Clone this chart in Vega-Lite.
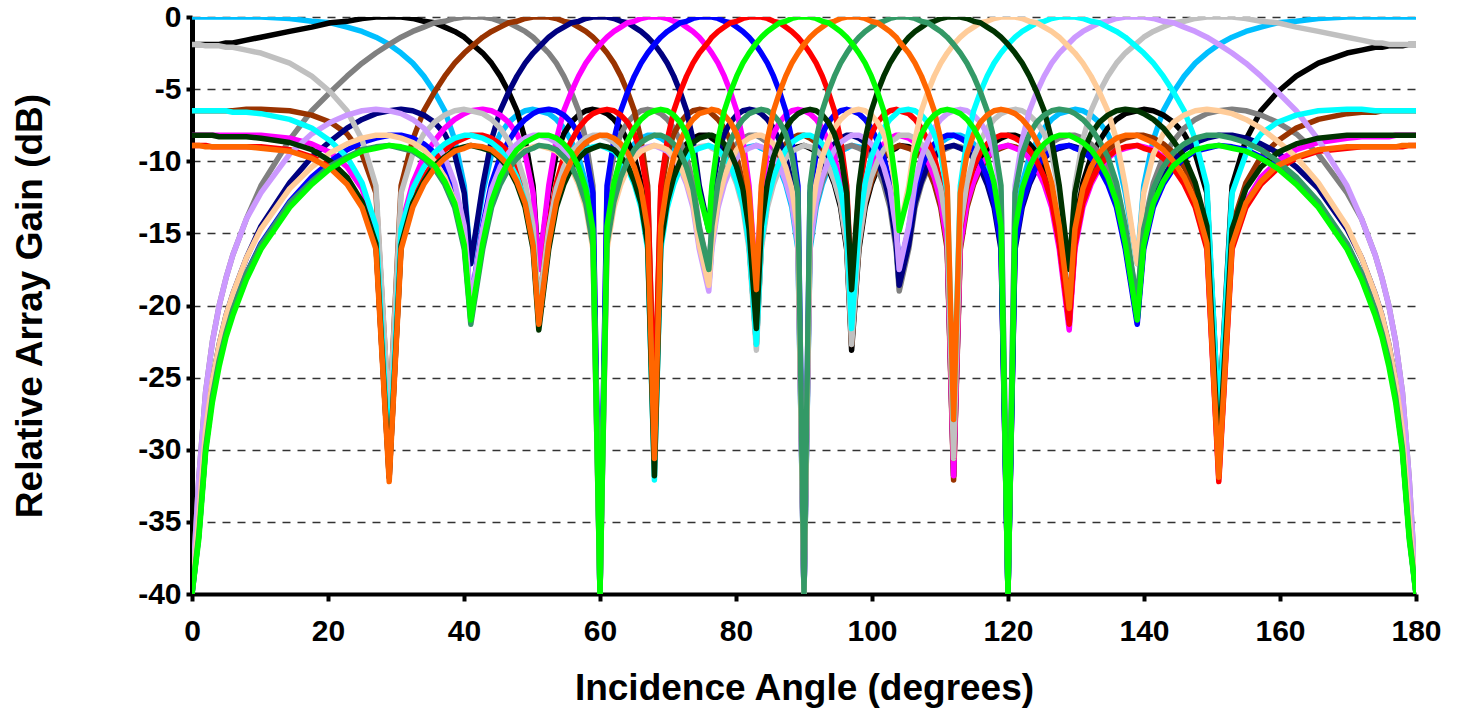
{
"$schema":"https://vega.github.io/schema/vega-lite/v6.json",
"width":1224,"height":577,
"autosize":{"type":"none"},
"padding":{"left":192,"top":17,"right":42,"bottom":116},
"background":"white",
"config":{"view":{"stroke":null},"font":"Liberation Sans","axis":{"labelFont":"Liberation Sans","titleFont":"Liberation Sans"}},
"data":{"values":[
{"x":0,"a":0,"b":-1.9,"c":-40,"d":-6.5,"e":-40,"f":-8.2,"g":-40,"h":-8.9,"i":-40,"j":-8.9,"k":-40,"l":-8.2,"m":-40,"n":-6.5,"o":-40,"p":-1.9},
{"x":1,"a":0,"b":-1.9,"c":-32,"d":-6.5,"e":-34.7,"f":-8.2,"g":-35.9,"h":-8.9,"i":-36.2,"j":-8.9,"k":-35.9,"l":-8.2,"m":-34.7,"n":-6.5,"o":-32,"p":-1.9},
{"x":2,"a":0,"b":-1.9,"c":-26,"d":-6.5,"e":-28.7,"f":-8.2,"g":-29.9,"h":-8.9,"i":-30.2,"j":-9,"k":-29.9,"l":-8.2,"m":-28.7,"n":-6.5,"o":-26,"p":-2},
{"x":3,"a":0,"b":-1.9,"c":-22.5,"d":-6.5,"e":-25.2,"f":-8.2,"g":-26.3,"h":-9,"i":-26.7,"j":-9,"k":-26.3,"l":-8.2,"m":-25.2,"n":-6.5,"o":-22.5,"p":-2},
{"x":4,"a":0,"b":-1.9,"c":-20,"d":-6.5,"e":-22.7,"f":-8.2,"g":-23.8,"h":-9,"i":-24.2,"j":-9,"k":-23.8,"l":-8.3,"m":-22.7,"n":-6.5,"o":-20,"p":-2},
{"x":5,"a":0,"b":-1.8,"c":-18.1,"d":-6.5,"e":-20.7,"f":-8.2,"g":-21.9,"h":-9,"i":-22.2,"j":-9,"k":-21.9,"l":-8.3,"m":-20.7,"n":-6.5,"o":-18.1,"p":-2.1},
{"x":6,"a":0,"b":-1.8,"c":-16.5,"d":-6.5,"e":-19.2,"f":-8.2,"g":-20.3,"h":-9,"i":-20.7,"j":-9,"k":-20.3,"l":-8.3,"m":-19.2,"n":-6.6,"o":-16.5,"p":-2.1},
{"x":8,"a":0,"b":-1.6,"c":-14,"d":-6.4,"e":-16.7,"f":-8.2,"g":-17.8,"h":-9,"i":-18.2,"j":-9,"k":-17.8,"l":-8.3,"m":-16.7,"n":-6.6,"o":-14,"p":-2.3},
{"x":10.14,"a":0,"b":-1.4,"c":-11.7,"d":-6.4,"e":-14.5,"f":-8.2,"g":-15.7,"h":-9,"i":-16.1,"j":-9.1,"k":-15.8,"l":-8.4,"m":-14.7,"n":-6.7,"o":-12.2,"p":-2.5},
{"x":14.36,"a":-0.1,"b":-1,"c":-8.5,"d":-6.5,"e":-11.5,"f":-8.4,"g":-12.8,"h":-9.2,"i":-13.2,"j":-9.3,"k":-12.9,"l":-8.7,"m":-11.9,"n":-7.1,"o":-9.5,"p":-3.2},
{"x":17.61,"a":-0.3,"b":-0.7,"c":-6.5,"d":-6.8,"e":-9.7,"f":-8.8,"g":-11.1,"h":-9.7,"i":-11.6,"j":-9.8,"k":-11.4,"l":-9.2,"m":-10.4,"n":-7.7,"o":-8.1,"p":-4.1},
{"x":20.36,"a":-0.4,"b":-0.4,"c":-5.2,"d":-7.3,"e":-8.6,"f":-9.4,"g":-10,"h":-10.3,"i":-10.5,"j":-10.5,"k":-10.3,"l":-10,"m":-9.4,"n":-8.6,"o":-7.3,"p":-5.2},
{"x":22.8,"a":-0.7,"b":-0.3,"c":-4.1,"d":-8.1,"e":-7.7,"f":-10.4,"g":-9.2,"h":-11.4,"i":-9.8,"j":-11.6,"k":-9.7,"l":-11.1,"m":-8.8,"n":-9.7,"o":-6.8,"p":-6.5},
{"x":25.01,"a":-1,"b":-0.1,"c":-3.2,"d":-9.5,"e":-7.1,"f":-11.9,"g":-8.7,"h":-12.9,"i":-9.3,"j":-13.2,"k":-9.2,"l":-12.8,"m":-8.4,"n":-11.5,"o":-6.5,"p":-8.5},
{"x":27.05,"a":-1.4,"b":0,"c":-2.5,"d":-12.2,"e":-6.7,"f":-14.7,"g":-8.4,"h":-15.8,"i":-9.1,"j":-16.1,"k":-9,"l":-15.7,"m":-8.2,"n":-14.5,"o":-6.4,"p":-11.7},
{"x":29,"a":-1.9,"b":0,"c":-1.9,"d":-28.1,"e":-6.5,"f":-30.7,"g":-8.2,"h":-31.9,"i":-8.9,"j":-32.2,"k":-8.9,"l":-31.9,"m":-8.2,"n":-30.7,"o":-6.5,"p":-28.1},
{"x":30.75,"a":-2.5,"b":0,"c":-1.4,"d":-11.7,"e":-6.4,"f":-14.5,"g":-8.2,"h":-15.7,"i":-9,"j":-16.1,"k":-9.1,"l":-15.8,"m":-8.4,"n":-14.7,"o":-6.7,"p":-12.2},
{"x":32.46,"a":-3.2,"b":-0.1,"c":-1,"d":-8.5,"e":-6.5,"f":-11.5,"g":-8.4,"h":-12.8,"i":-9.2,"j":-13.2,"k":-9.3,"l":-12.9,"m":-8.7,"n":-11.9,"o":-7.1,"p":-9.5},
{"x":34.09,"a":-4.1,"b":-0.3,"c":-0.7,"d":-6.5,"e":-6.8,"f":-9.7,"g":-8.8,"h":-11.1,"i":-9.7,"j":-11.6,"k":-9.8,"l":-11.4,"m":-9.2,"n":-10.4,"o":-7.7,"p":-8.1},
{"x":35.66,"a":-5.2,"b":-0.4,"c":-0.4,"d":-5.2,"e":-7.3,"f":-8.6,"g":-9.4,"h":-10,"i":-10.3,"j":-10.5,"k":-10.5,"l":-10.3,"m":-10,"n":-9.4,"o":-8.6,"p":-7.3},
{"x":37.17,"a":-6.5,"b":-0.7,"c":-0.3,"d":-4.1,"e":-8.1,"f":-7.7,"g":-10.4,"h":-9.2,"i":-11.4,"j":-9.8,"k":-11.6,"l":-9.7,"m":-11.1,"n":-8.8,"o":-9.7,"p":-6.8},
{"x":38.63,"a":-8.5,"b":-1,"c":-0.1,"d":-3.2,"e":-9.5,"f":-7.1,"g":-11.9,"h":-8.7,"i":-12.9,"j":-9.3,"k":-13.2,"l":-9.2,"m":-12.8,"n":-8.4,"o":-11.5,"p":-6.5},
{"x":40.04,"a":-11.7,"b":-1.4,"c":0,"d":-2.5,"e":-12.2,"f":-6.7,"g":-14.7,"h":-8.4,"i":-15.8,"j":-9.1,"k":-16.1,"l":-9,"m":-15.7,"n":-8.2,"o":-14.5,"p":-6.4},
{"x":41,"a":-17.1,"b":-1.8,"c":0,"d":-2.1,"e":-17.1,"f":-6.5,"g":-19.8,"h":-8.2,"i":-21,"j":-8.9,"k":-21.3,"l":-8.9,"m":-21,"n":-8.2,"o":-19.8,"p":-6.5},
{"x":42.75,"a":-12.2,"b":-2.5,"c":0,"d":-1.4,"e":-11.7,"f":-6.4,"g":-14.5,"h":-8.2,"i":-15.7,"j":-9,"k":-16.1,"l":-9.1,"m":-15.8,"n":-8.4,"o":-14.7,"p":-6.7},
{"x":44.05,"a":-9.5,"b":-3.2,"c":-0.1,"d":-1,"e":-8.5,"f":-6.5,"g":-11.5,"h":-8.4,"i":-12.8,"j":-9.2,"k":-13.2,"l":-9.3,"m":-12.9,"n":-8.7,"o":-11.9,"p":-7.1},
{"x":45.32,"a":-8.1,"b":-4.1,"c":-0.3,"d":-0.7,"e":-6.5,"f":-6.8,"g":-9.7,"h":-8.8,"i":-11.1,"j":-9.7,"k":-11.6,"l":-9.8,"m":-11.4,"n":-9.2,"o":-10.4,"p":-7.7},
{"x":46.57,"a":-7.3,"b":-5.2,"c":-0.4,"d":-0.4,"e":-5.2,"f":-7.3,"g":-8.6,"h":-9.4,"i":-10,"j":-10.3,"k":-10.5,"l":-10.5,"m":-10.3,"n":-10,"o":-9.4,"p":-8.6},
{"x":47.79,"a":-6.8,"b":-6.5,"c":-0.7,"d":-0.3,"e":-4.1,"f":-8.1,"g":-7.7,"h":-10.4,"i":-9.2,"j":-11.4,"k":-9.8,"l":-11.6,"m":-9.7,"n":-11.1,"o":-8.8,"p":-9.7},
{"x":48.99,"a":-6.5,"b":-8.5,"c":-1,"d":-0.1,"e":-3.2,"f":-9.5,"g":-7.1,"h":-11.9,"i":-8.7,"j":-12.9,"k":-9.3,"l":-13.2,"m":-9.2,"n":-12.8,"o":-8.4,"p":-11.5},
{"x":50.16,"a":-6.4,"b":-11.7,"c":-1.4,"d":0,"e":-2.5,"f":-12.2,"g":-6.7,"h":-14.7,"i":-8.4,"j":-15.8,"k":-9.1,"l":-16.1,"m":-9,"n":-15.7,"o":-8.2,"p":-14.5},
{"x":51,"a":-6.5,"b":-17.5,"c":-1.8,"d":0,"e":-2.1,"f":-17.5,"g":-6.5,"h":-20.2,"i":-8.2,"j":-21.3,"k":-8.9,"l":-21.7,"m":-8.9,"n":-21.3,"o":-8.2,"p":-20.2},
{"x":52.46,"a":-6.7,"b":-12.2,"c":-2.5,"d":0,"e":-1.4,"f":-11.7,"g":-6.4,"h":-14.5,"i":-8.2,"j":-15.7,"k":-9,"l":-16.1,"m":-9.1,"n":-15.8,"o":-8.4,"p":-14.7},
{"x":53.58,"a":-7.1,"b":-9.5,"c":-3.2,"d":-0.1,"e":-1,"f":-8.5,"g":-6.5,"h":-11.5,"i":-8.4,"j":-12.8,"k":-9.2,"l":-13.2,"m":-9.3,"n":-12.9,"o":-8.7,"p":-11.9},
{"x":54.68,"a":-7.7,"b":-8.1,"c":-4.1,"d":-0.3,"e":-0.7,"f":-6.5,"g":-6.8,"h":-9.7,"i":-8.8,"j":-11.1,"k":-9.7,"l":-11.6,"m":-9.8,"n":-11.4,"o":-9.2,"p":-10.4},
{"x":55.77,"a":-8.6,"b":-7.3,"c":-5.2,"d":-0.4,"e":-0.4,"f":-5.2,"g":-7.3,"h":-8.6,"i":-9.4,"j":-10,"k":-10.3,"l":-10.5,"m":-10.5,"n":-10.3,"o":-10,"p":-9.4},
{"x":56.85,"a":-9.7,"b":-6.8,"c":-6.5,"d":-0.7,"e":-0.3,"f":-4.1,"g":-8.1,"h":-7.7,"i":-10.4,"j":-9.2,"k":-11.4,"l":-9.8,"m":-11.6,"n":-9.7,"o":-11.1,"p":-8.8},
{"x":57.91,"a":-11.5,"b":-6.5,"c":-8.5,"d":-1,"e":-0.1,"f":-3.2,"g":-9.5,"h":-7.1,"i":-11.9,"j":-8.7,"k":-12.9,"l":-9.3,"m":-13.2,"n":-9.2,"o":-12.8,"p":-8.4},
{"x":58.96,"a":-14.5,"b":-6.4,"c":-11.7,"d":-1.4,"e":0,"f":-2.5,"g":-12.2,"h":-6.7,"i":-14.7,"j":-8.4,"k":-15.8,"l":-9.1,"m":-16.1,"n":-9,"o":-15.7,"p":-8.2},
{"x":60,"a":-40,"b":-6.5,"c":-40,"d":-1.9,"e":0,"f":-1.9,"g":-40,"h":-6.5,"i":-40,"j":-8.2,"k":-40,"l":-8.9,"m":-40,"n":-8.9,"o":-40,"p":-8.2},
{"x":61.03,"a":-14.7,"b":-6.7,"c":-12.2,"d":-2.5,"e":0,"f":-1.4,"g":-11.7,"h":-6.4,"i":-14.5,"j":-8.2,"k":-15.7,"l":-9,"m":-16.1,"n":-9.1,"o":-15.8,"p":-8.4},
{"x":62.05,"a":-11.9,"b":-7.1,"c":-9.5,"d":-3.2,"e":-0.1,"f":-1,"g":-8.5,"h":-6.5,"i":-11.5,"j":-8.4,"k":-12.8,"l":-9.2,"m":-13.2,"n":-9.3,"o":-12.9,"p":-8.7},
{"x":63.06,"a":-10.4,"b":-7.7,"c":-8.1,"d":-4.1,"e":-0.3,"f":-0.7,"g":-6.5,"h":-6.8,"i":-9.7,"j":-8.8,"k":-11.1,"l":-9.7,"m":-11.6,"n":-9.8,"o":-11.4,"p":-9.2},
{"x":64.06,"a":-9.4,"b":-8.6,"c":-7.3,"d":-5.2,"e":-0.4,"f":-0.4,"g":-5.2,"h":-7.3,"i":-8.6,"j":-9.4,"k":-10,"l":-10.3,"m":-10.5,"n":-10.5,"o":-10.3,"p":-10},
{"x":65.05,"a":-8.8,"b":-9.7,"c":-6.8,"d":-6.5,"e":-0.7,"f":-0.3,"g":-4.1,"h":-8.1,"i":-7.7,"j":-10.4,"k":-9.2,"l":-11.4,"m":-9.8,"n":-11.6,"o":-9.7,"p":-11.1},
{"x":66.03,"a":-8.4,"b":-11.5,"c":-6.5,"d":-8.5,"e":-1,"f":-0.1,"g":-3.2,"h":-9.5,"i":-7.1,"j":-11.9,"k":-8.7,"l":-12.9,"m":-9.3,"n":-13.2,"o":-9.2,"p":-12.8},
{"x":67.01,"a":-8.2,"b":-14.5,"c":-6.4,"d":-11.7,"e":-1.4,"f":0,"g":-2.5,"h":-12.2,"i":-6.7,"j":-14.7,"k":-8.4,"l":-15.8,"m":-9.1,"n":-16.1,"o":-9,"p":-15.7},
{"x":68,"a":-8.2,"b":-30.6,"c":-6.5,"d":-27.9,"e":-1.9,"f":0,"g":-1.9,"h":-27.9,"i":-6.5,"j":-30.6,"k":-8.2,"l":-31.8,"m":-8.9,"n":-32.1,"o":-8.9,"p":-31.8},
{"x":68.94,"a":-8.4,"b":-14.7,"c":-6.7,"d":-12.2,"e":-2.5,"f":0,"g":-1.4,"h":-11.7,"i":-6.4,"j":-14.5,"k":-8.2,"l":-15.7,"m":-9,"n":-16.1,"o":-9.1,"p":-15.8},
{"x":69.9,"a":-8.7,"b":-11.9,"c":-7.1,"d":-9.5,"e":-3.2,"f":-0.1,"g":-1,"h":-8.5,"i":-6.5,"j":-11.5,"k":-8.4,"l":-12.8,"m":-9.2,"n":-13.2,"o":-9.3,"p":-12.9},
{"x":70.85,"a":-9.2,"b":-10.4,"c":-7.7,"d":-8.1,"e":-4.1,"f":-0.3,"g":-0.7,"h":-6.5,"i":-6.8,"j":-9.7,"k":-8.8,"l":-11.1,"m":-9.7,"n":-11.6,"o":-9.8,"p":-11.4},
{"x":71.79,"a":-10,"b":-9.4,"c":-8.6,"d":-7.3,"e":-5.2,"f":-0.4,"g":-0.4,"h":-5.2,"i":-7.3,"j":-8.6,"k":-9.4,"l":-10,"m":-10.3,"n":-10.5,"o":-10.5,"p":-10.3},
{"x":72.73,"a":-11.1,"b":-8.8,"c":-9.7,"d":-6.8,"e":-6.5,"f":-0.7,"g":-0.3,"h":-4.1,"i":-8.1,"j":-7.7,"k":-10.4,"l":-9.2,"m":-11.4,"n":-9.8,"o":-11.6,"p":-9.7},
{"x":73.67,"a":-12.8,"b":-8.4,"c":-11.5,"d":-6.5,"e":-8.5,"f":-1,"g":-0.1,"h":-3.2,"i":-9.5,"j":-7.1,"k":-11.9,"l":-8.7,"m":-12.9,"n":-9.3,"o":-13.2,"p":-9.2},
{"x":74.6,"a":-15.7,"b":-8.2,"c":-14.5,"d":-6.4,"e":-11.7,"f":-1.4,"g":0,"h":-2.5,"i":-12.2,"j":-6.7,"k":-14.7,"l":-8.4,"m":-15.8,"n":-9.1,"o":-16.1,"p":-9},
{"x":76,"a":-18.6,"b":-8.2,"c":-17.5,"d":-6.5,"e":-14.8,"f":-2.2,"g":0,"h":-1.7,"i":-14.8,"j":-6.5,"k":-17.5,"l":-8.2,"m":-18.6,"n":-8.9,"o":-19,"p":-8.9},
{"x":76.45,"a":-15.8,"b":-8.4,"c":-14.7,"d":-6.7,"e":-12.2,"f":-2.5,"g":0,"h":-1.4,"i":-11.7,"j":-6.4,"k":-14.5,"l":-8.2,"m":-15.7,"n":-9,"o":-16.1,"p":-9.1},
{"x":77.36,"a":-12.9,"b":-8.7,"c":-11.9,"d":-7.1,"e":-9.5,"f":-3.2,"g":-0.1,"h":-1,"i":-8.5,"j":-6.5,"k":-11.5,"l":-8.4,"m":-12.8,"n":-9.2,"o":-13.2,"p":-9.3},
{"x":78.28,"a":-11.4,"b":-9.2,"c":-10.4,"d":-7.7,"e":-8.1,"f":-4.1,"g":-0.3,"h":-0.7,"i":-6.5,"j":-6.8,"k":-9.7,"l":-8.8,"m":-11.1,"n":-9.7,"o":-11.6,"p":-9.8},
{"x":79.19,"a":-10.3,"b":-10,"c":-9.4,"d":-8.6,"e":-7.3,"f":-5.2,"g":-0.4,"h":-0.4,"i":-5.2,"j":-7.3,"k":-8.6,"l":-9.4,"m":-10,"n":-10.3,"o":-10.5,"p":-10.5},
{"x":80.1,"a":-9.7,"b":-11.1,"c":-8.8,"d":-9.7,"e":-6.8,"f":-6.5,"g":-0.7,"h":-0.3,"i":-4.1,"j":-8.1,"k":-7.7,"l":-10.4,"m":-9.2,"n":-11.4,"o":-9.8,"p":-11.6},
{"x":81.01,"a":-9.2,"b":-12.8,"c":-8.4,"d":-11.5,"e":-6.5,"f":-8.5,"g":-1,"h":-0.1,"i":-3.2,"j":-9.5,"k":-7.1,"l":-11.9,"m":-8.7,"n":-12.9,"o":-9.3,"p":-13.2},
{"x":81.92,"a":-9,"b":-15.7,"c":-8.2,"d":-14.5,"e":-6.4,"f":-11.7,"g":-1.4,"h":0,"i":-2.5,"j":-12.2,"k":-6.7,"l":-14.7,"m":-8.4,"n":-15.8,"o":-9.1,"p":-16.1},
{"x":83,"a":-8.9,"b":-22.7,"c":-8.2,"d":-21.6,"e":-6.5,"f":-18.9,"g":-2,"h":0,"i":-1.8,"j":-18.9,"k":-6.5,"l":-21.6,"m":-8.2,"n":-22.7,"o":-8.9,"p":-23.1},
{"x":83.72,"a":-9.1,"b":-15.8,"c":-8.4,"d":-14.7,"e":-6.7,"f":-12.2,"g":-2.5,"h":0,"i":-1.4,"j":-11.7,"k":-6.4,"l":-14.5,"m":-8.2,"n":-15.7,"o":-9,"p":-16.1},
{"x":84.62,"a":-9.3,"b":-12.9,"c":-8.7,"d":-11.9,"e":-7.1,"f":-9.5,"g":-3.2,"h":-0.1,"i":-1,"j":-8.5,"k":-6.5,"l":-11.5,"m":-8.4,"n":-12.8,"o":-9.2,"p":-13.2},
{"x":85.52,"a":-9.8,"b":-11.4,"c":-9.2,"d":-10.4,"e":-7.7,"f":-8.1,"g":-4.1,"h":-0.3,"i":-0.7,"j":-6.5,"k":-6.8,"l":-9.7,"m":-8.8,"n":-11.1,"o":-9.7,"p":-11.6},
{"x":86.42,"a":-10.5,"b":-10.3,"c":-10,"d":-9.4,"e":-8.6,"f":-7.3,"g":-5.2,"h":-0.4,"i":-0.4,"j":-5.2,"k":-7.3,"l":-8.6,"m":-9.4,"n":-10,"o":-10.3,"p":-10.5},
{"x":87.31,"a":-11.6,"b":-9.7,"c":-11.1,"d":-8.8,"e":-9.7,"f":-6.8,"g":-6.5,"h":-0.7,"i":-0.3,"j":-4.1,"k":-8.1,"l":-7.7,"m":-10.4,"n":-9.2,"o":-11.4,"p":-9.8},
{"x":88.21,"a":-13.2,"b":-9.2,"c":-12.8,"d":-8.4,"e":-11.5,"f":-6.5,"g":-8.5,"h":-1,"i":-0.1,"j":-3.2,"k":-9.5,"l":-7.1,"m":-11.9,"n":-8.7,"o":-12.9,"p":-9.3},
{"x":89.11,"a":-16.1,"b":-9,"c":-15.7,"d":-8.2,"e":-14.5,"f":-6.4,"g":-11.7,"h":-1.4,"i":0,"j":-2.5,"k":-12.2,"l":-6.7,"m":-14.7,"n":-8.4,"o":-15.8,"p":-9.1},
{"x":90,"a":-40,"b":-8.9,"c":-40,"d":-8.2,"e":-40,"f":-6.5,"g":-40,"h":-1.9,"i":0,"j":-1.9,"k":-40,"l":-6.5,"m":-40,"n":-8.2,"o":-40,"p":-8.9},
{"x":90.89,"a":-16.1,"b":-9.1,"c":-15.8,"d":-8.4,"e":-14.7,"f":-6.7,"g":-12.2,"h":-2.5,"i":0,"j":-1.4,"k":-11.7,"l":-6.4,"m":-14.5,"n":-8.2,"o":-15.7,"p":-9},
{"x":91.79,"a":-13.2,"b":-9.3,"c":-12.9,"d":-8.7,"e":-11.9,"f":-7.1,"g":-9.5,"h":-3.2,"i":-0.1,"j":-1,"k":-8.5,"l":-6.5,"m":-11.5,"n":-8.4,"o":-12.8,"p":-9.2},
{"x":92.69,"a":-11.6,"b":-9.8,"c":-11.4,"d":-9.2,"e":-10.4,"f":-7.7,"g":-8.1,"h":-4.1,"i":-0.3,"j":-0.7,"k":-6.5,"l":-6.8,"m":-9.7,"n":-8.8,"o":-11.1,"p":-9.7},
{"x":93.58,"a":-10.5,"b":-10.5,"c":-10.3,"d":-10,"e":-9.4,"f":-8.6,"g":-7.3,"h":-5.2,"i":-0.4,"j":-0.4,"k":-5.2,"l":-7.3,"m":-8.6,"n":-9.4,"o":-10,"p":-10.3},
{"x":94.48,"a":-9.8,"b":-11.6,"c":-9.7,"d":-11.1,"e":-8.8,"f":-9.7,"g":-6.8,"h":-6.5,"i":-0.7,"j":-0.3,"k":-4.1,"l":-8.1,"m":-7.7,"n":-10.4,"o":-9.2,"p":-11.4},
{"x":95.38,"a":-9.3,"b":-13.2,"c":-9.2,"d":-12.8,"e":-8.4,"f":-11.5,"g":-6.5,"h":-8.5,"i":-1,"j":-0.1,"k":-3.2,"l":-9.5,"m":-7.1,"n":-11.9,"o":-8.7,"p":-12.9},
{"x":96.28,"a":-9.1,"b":-16.1,"c":-9,"d":-15.7,"e":-8.2,"f":-14.5,"g":-6.4,"h":-11.7,"i":-1.4,"j":0,"k":-2.5,"l":-12.2,"m":-6.7,"n":-14.7,"o":-8.4,"p":-15.8},
{"x":97,"a":-8.9,"b":-23.1,"c":-8.9,"d":-22.7,"e":-8.2,"f":-21.6,"g":-6.5,"h":-18.9,"i":-1.8,"j":0,"k":-2,"l":-18.9,"m":-6.5,"n":-21.6,"o":-8.2,"p":-22.7},
{"x":98.08,"a":-9,"b":-16.1,"c":-9.1,"d":-15.8,"e":-8.4,"f":-14.7,"g":-6.7,"h":-12.2,"i":-2.5,"j":0,"k":-1.4,"l":-11.7,"m":-6.4,"n":-14.5,"o":-8.2,"p":-15.7},
{"x":98.99,"a":-9.2,"b":-13.2,"c":-9.3,"d":-12.9,"e":-8.7,"f":-11.9,"g":-7.1,"h":-9.5,"i":-3.2,"j":-0.1,"k":-1,"l":-8.5,"m":-6.5,"n":-11.5,"o":-8.4,"p":-12.8},
{"x":99.9,"a":-9.7,"b":-11.6,"c":-9.8,"d":-11.4,"e":-9.2,"f":-10.4,"g":-7.7,"h":-8.1,"i":-4.1,"j":-0.3,"k":-0.7,"l":-6.5,"m":-6.8,"n":-9.7,"o":-8.8,"p":-11.1},
{"x":100.81,"a":-10.3,"b":-10.5,"c":-10.5,"d":-10.3,"e":-10,"f":-9.4,"g":-8.6,"h":-7.3,"i":-5.2,"j":-0.4,"k":-0.4,"l":-5.2,"m":-7.3,"n":-8.6,"o":-9.4,"p":-10},
{"x":101.72,"a":-11.4,"b":-9.8,"c":-11.6,"d":-9.7,"e":-11.1,"f":-8.8,"g":-9.7,"h":-6.8,"i":-6.5,"j":-0.7,"k":-0.3,"l":-4.1,"m":-8.1,"n":-7.7,"o":-10.4,"p":-9.2},
{"x":102.64,"a":-12.9,"b":-9.3,"c":-13.2,"d":-9.2,"e":-12.8,"f":-8.4,"g":-11.5,"h":-6.5,"i":-8.5,"j":-1,"k":-0.1,"l":-3.2,"m":-9.5,"n":-7.1,"o":-11.9,"p":-8.7},
{"x":103.55,"a":-15.8,"b":-9.1,"c":-16.1,"d":-9,"e":-15.7,"f":-8.2,"g":-14.5,"h":-6.4,"i":-11.7,"j":-1.4,"k":0,"l":-2.5,"m":-12.2,"n":-6.7,"o":-14.7,"p":-8.4},
{"x":104,"a":-18.6,"b":-8.9,"c":-19,"d":-8.9,"e":-18.6,"f":-8.2,"g":-17.5,"h":-6.5,"i":-14.8,"j":-1.7,"k":0,"l":-2.2,"m":-14.8,"n":-6.5,"o":-17.5,"p":-8.2},
{"x":105.4,"a":-15.7,"b":-9,"c":-16.1,"d":-9.1,"e":-15.8,"f":-8.4,"g":-14.7,"h":-6.7,"i":-12.2,"j":-2.5,"k":0,"l":-1.4,"m":-11.7,"n":-6.4,"o":-14.5,"p":-8.2},
{"x":106.33,"a":-12.8,"b":-9.2,"c":-13.2,"d":-9.3,"e":-12.9,"f":-8.7,"g":-11.9,"h":-7.1,"i":-9.5,"j":-3.2,"k":-0.1,"l":-1,"m":-8.5,"n":-6.5,"o":-11.5,"p":-8.4},
{"x":107.27,"a":-11.1,"b":-9.7,"c":-11.6,"d":-9.8,"e":-11.4,"f":-9.2,"g":-10.4,"h":-7.7,"i":-8.1,"j":-4.1,"k":-0.3,"l":-0.7,"m":-6.5,"n":-6.8,"o":-9.7,"p":-8.8},
{"x":108.21,"a":-10,"b":-10.3,"c":-10.5,"d":-10.5,"e":-10.3,"f":-10,"g":-9.4,"h":-8.6,"i":-7.3,"j":-5.2,"k":-0.4,"l":-0.4,"m":-5.2,"n":-7.3,"o":-8.6,"p":-9.4},
{"x":109.15,"a":-9.2,"b":-11.4,"c":-9.8,"d":-11.6,"e":-9.7,"f":-11.1,"g":-8.8,"h":-9.7,"i":-6.8,"j":-6.5,"k":-0.7,"l":-0.3,"m":-4.1,"n":-8.1,"o":-7.7,"p":-10.4},
{"x":110.1,"a":-8.7,"b":-12.9,"c":-9.3,"d":-13.2,"e":-9.2,"f":-12.8,"g":-8.4,"h":-11.5,"i":-6.5,"j":-8.5,"k":-1,"l":-0.1,"m":-3.2,"n":-9.5,"o":-7.1,"p":-11.9},
{"x":111.06,"a":-8.4,"b":-15.8,"c":-9.1,"d":-16.1,"e":-9,"f":-15.7,"g":-8.2,"h":-14.5,"i":-6.4,"j":-11.7,"k":-1.4,"l":0,"m":-2.5,"n":-12.2,"o":-6.7,"p":-14.7},
{"x":112,"a":-8.2,"b":-31.8,"c":-8.9,"d":-32.1,"e":-8.9,"f":-31.8,"g":-8.2,"h":-30.6,"i":-6.5,"j":-27.9,"k":-1.9,"l":0,"m":-1.9,"n":-27.9,"o":-6.5,"p":-30.6},
{"x":112.99,"a":-8.2,"b":-15.7,"c":-9,"d":-16.1,"e":-9.1,"f":-15.8,"g":-8.4,"h":-14.7,"i":-6.7,"j":-12.2,"k":-2.5,"l":0,"m":-1.4,"n":-11.7,"o":-6.4,"p":-14.5},
{"x":113.97,"a":-8.4,"b":-12.8,"c":-9.2,"d":-13.2,"e":-9.3,"f":-12.9,"g":-8.7,"h":-11.9,"i":-7.1,"j":-9.5,"k":-3.2,"l":-0.1,"m":-1,"n":-8.5,"o":-6.5,"p":-11.5},
{"x":114.95,"a":-8.8,"b":-11.1,"c":-9.7,"d":-11.6,"e":-9.8,"f":-11.4,"g":-9.2,"h":-10.4,"i":-7.7,"j":-8.1,"k":-4.1,"l":-0.3,"m":-0.7,"n":-6.5,"o":-6.8,"p":-9.7},
{"x":115.94,"a":-9.4,"b":-10,"c":-10.3,"d":-10.5,"e":-10.5,"f":-10.3,"g":-10,"h":-9.4,"i":-8.6,"j":-7.3,"k":-5.2,"l":-0.4,"m":-0.4,"n":-5.2,"o":-7.3,"p":-8.6},
{"x":116.94,"a":-10.4,"b":-9.2,"c":-11.4,"d":-9.8,"e":-11.6,"f":-9.7,"g":-11.1,"h":-8.8,"i":-9.7,"j":-6.8,"k":-6.5,"l":-0.7,"m":-0.3,"n":-4.1,"o":-8.1,"p":-7.7},
{"x":117.95,"a":-11.9,"b":-8.7,"c":-12.9,"d":-9.3,"e":-13.2,"f":-9.2,"g":-12.8,"h":-8.4,"i":-11.5,"j":-6.5,"k":-8.5,"l":-1,"m":-0.1,"n":-3.2,"o":-9.5,"p":-7.1},
{"x":118.97,"a":-14.7,"b":-8.4,"c":-15.8,"d":-9.1,"e":-16.1,"f":-9,"g":-15.7,"h":-8.2,"i":-14.5,"j":-6.4,"k":-11.7,"l":-1.4,"m":0,"n":-2.5,"o":-12.2,"p":-6.7},
{"x":120,"a":-40,"b":-8.2,"c":-40,"d":-8.9,"e":-40,"f":-8.9,"g":-40,"h":-8.2,"i":-40,"j":-6.5,"k":-40,"l":-1.9,"m":0,"n":-1.9,"o":-40,"p":-6.5},
{"x":121.04,"a":-14.5,"b":-8.2,"c":-15.7,"d":-9,"e":-16.1,"f":-9.1,"g":-15.8,"h":-8.4,"i":-14.7,"j":-6.7,"k":-12.2,"l":-2.5,"m":0,"n":-1.4,"o":-11.7,"p":-6.4},
{"x":122.09,"a":-11.5,"b":-8.4,"c":-12.8,"d":-9.2,"e":-13.2,"f":-9.3,"g":-12.9,"h":-8.7,"i":-11.9,"j":-7.1,"k":-9.5,"l":-3.2,"m":-0.1,"n":-1,"o":-8.5,"p":-6.5},
{"x":123.15,"a":-9.7,"b":-8.8,"c":-11.1,"d":-9.7,"e":-11.6,"f":-9.8,"g":-11.4,"h":-9.2,"i":-10.4,"j":-7.7,"k":-8.1,"l":-4.1,"m":-0.3,"n":-0.7,"o":-6.5,"p":-6.8},
{"x":124.23,"a":-8.6,"b":-9.4,"c":-10,"d":-10.3,"e":-10.5,"f":-10.5,"g":-10.3,"h":-10,"i":-9.4,"j":-8.6,"k":-7.3,"l":-5.2,"m":-0.4,"n":-0.4,"o":-5.2,"p":-7.3},
{"x":125.32,"a":-7.7,"b":-10.4,"c":-9.2,"d":-11.4,"e":-9.8,"f":-11.6,"g":-9.7,"h":-11.1,"i":-8.8,"j":-9.7,"k":-6.8,"l":-6.5,"m":-0.7,"n":-0.3,"o":-4.1,"p":-8.1},
{"x":126.42,"a":-7.1,"b":-11.9,"c":-8.7,"d":-12.9,"e":-9.3,"f":-13.2,"g":-9.2,"h":-12.8,"i":-8.4,"j":-11.5,"k":-6.5,"l":-8.5,"m":-1,"n":-0.1,"o":-3.2,"p":-9.5},
{"x":127.54,"a":-6.7,"b":-14.7,"c":-8.4,"d":-15.8,"e":-9.1,"f":-16.1,"g":-9,"h":-15.7,"i":-8.2,"j":-14.5,"k":-6.4,"l":-11.7,"m":-1.4,"n":0,"o":-2.5,"p":-12.2},
{"x":129,"a":-6.5,"b":-20.2,"c":-8.2,"d":-21.3,"e":-8.9,"f":-21.7,"g":-8.9,"h":-21.3,"i":-8.2,"j":-20.2,"k":-6.5,"l":-17.5,"m":-2.1,"n":0,"o":-1.8,"p":-17.5},
{"x":129.84,"a":-6.4,"b":-14.5,"c":-8.2,"d":-15.7,"e":-9,"f":-16.1,"g":-9.1,"h":-15.8,"i":-8.4,"j":-14.7,"k":-6.7,"l":-12.2,"m":-2.5,"n":0,"o":-1.4,"p":-11.7},
{"x":131.01,"a":-6.5,"b":-11.5,"c":-8.4,"d":-12.8,"e":-9.2,"f":-13.2,"g":-9.3,"h":-12.9,"i":-8.7,"j":-11.9,"k":-7.1,"l":-9.5,"m":-3.2,"n":-0.1,"o":-1,"p":-8.5},
{"x":132.21,"a":-6.8,"b":-9.7,"c":-8.8,"d":-11.1,"e":-9.7,"f":-11.6,"g":-9.8,"h":-11.4,"i":-9.2,"j":-10.4,"k":-7.7,"l":-8.1,"m":-4.1,"n":-0.3,"o":-0.7,"p":-6.5},
{"x":133.43,"a":-7.3,"b":-8.6,"c":-9.4,"d":-10,"e":-10.3,"f":-10.5,"g":-10.5,"h":-10.3,"i":-10,"j":-9.4,"k":-8.6,"l":-7.3,"m":-5.2,"n":-0.4,"o":-0.4,"p":-5.2},
{"x":134.68,"a":-8.1,"b":-7.7,"c":-10.4,"d":-9.2,"e":-11.4,"f":-9.8,"g":-11.6,"h":-9.7,"i":-11.1,"j":-8.8,"k":-9.7,"l":-6.8,"m":-6.5,"n":-0.7,"o":-0.3,"p":-4.1},
{"x":135.95,"a":-9.5,"b":-7.1,"c":-11.9,"d":-8.7,"e":-12.9,"f":-9.3,"g":-13.2,"h":-9.2,"i":-12.8,"j":-8.4,"k":-11.5,"l":-6.5,"m":-8.5,"n":-1,"o":-0.1,"p":-3.2},
{"x":137.25,"a":-12.2,"b":-6.7,"c":-14.7,"d":-8.4,"e":-15.8,"f":-9.1,"g":-16.1,"h":-9,"i":-15.7,"j":-8.2,"k":-14.5,"l":-6.4,"m":-11.7,"n":-1.4,"o":0,"p":-2.5},
{"x":139,"a":-17.1,"b":-6.5,"c":-19.8,"d":-8.2,"e":-21,"f":-8.9,"g":-21.3,"h":-8.9,"i":-21,"j":-8.2,"k":-19.8,"l":-6.5,"m":-17.1,"n":-2.1,"o":0,"p":-1.8},
{"x":139.96,"a":-11.7,"b":-6.4,"c":-14.5,"d":-8.2,"e":-15.7,"f":-9,"g":-16.1,"h":-9.1,"i":-15.8,"j":-8.4,"k":-14.7,"l":-6.7,"m":-12.2,"n":-2.5,"o":0,"p":-1.4},
{"x":141.37,"a":-8.5,"b":-6.5,"c":-11.5,"d":-8.4,"e":-12.8,"f":-9.2,"g":-13.2,"h":-9.3,"i":-12.9,"j":-8.7,"k":-11.9,"l":-7.1,"m":-9.5,"n":-3.2,"o":-0.1,"p":-1},
{"x":142.83,"a":-6.5,"b":-6.8,"c":-9.7,"d":-8.8,"e":-11.1,"f":-9.7,"g":-11.6,"h":-9.8,"i":-11.4,"j":-9.2,"k":-10.4,"l":-7.7,"m":-8.1,"n":-4.1,"o":-0.3,"p":-0.7},
{"x":144.34,"a":-5.2,"b":-7.3,"c":-8.6,"d":-9.4,"e":-10,"f":-10.3,"g":-10.5,"h":-10.5,"i":-10.3,"j":-10,"k":-9.4,"l":-8.6,"m":-7.3,"n":-5.2,"o":-0.4,"p":-0.4},
{"x":145.91,"a":-4.1,"b":-8.1,"c":-7.7,"d":-10.4,"e":-9.2,"f":-11.4,"g":-9.8,"h":-11.6,"i":-9.7,"j":-11.1,"k":-8.8,"l":-9.7,"m":-6.8,"n":-6.5,"o":-0.7,"p":-0.3},
{"x":147.54,"a":-3.2,"b":-9.5,"c":-7.1,"d":-11.9,"e":-8.7,"f":-12.9,"g":-9.3,"h":-13.2,"i":-9.2,"j":-12.8,"k":-8.4,"l":-11.5,"m":-6.5,"n":-8.5,"o":-1,"p":-0.1},
{"x":149.25,"a":-2.5,"b":-12.2,"c":-6.7,"d":-14.7,"e":-8.4,"f":-15.8,"g":-9.1,"h":-16.1,"i":-9,"j":-15.7,"k":-8.2,"l":-14.5,"m":-6.4,"n":-11.7,"o":-1.4,"p":0},
{"x":151,"a":-1.9,"b":-28.1,"c":-6.5,"d":-30.7,"e":-8.2,"f":-31.9,"g":-8.9,"h":-32.2,"i":-8.9,"j":-31.9,"k":-8.2,"l":-30.7,"m":-6.5,"n":-28.1,"o":-1.9,"p":0},
{"x":152.95,"a":-1.4,"b":-11.7,"c":-6.4,"d":-14.5,"e":-8.2,"f":-15.7,"g":-9,"h":-16.1,"i":-9.1,"j":-15.8,"k":-8.4,"l":-14.7,"m":-6.7,"n":-12.2,"o":-2.5,"p":0},
{"x":154.99,"a":-1,"b":-8.5,"c":-6.5,"d":-11.5,"e":-8.4,"f":-12.8,"g":-9.2,"h":-13.2,"i":-9.3,"j":-12.9,"k":-8.7,"l":-11.9,"m":-7.1,"n":-9.5,"o":-3.2,"p":-0.1},
{"x":157.2,"a":-0.7,"b":-6.5,"c":-6.8,"d":-9.7,"e":-8.8,"f":-11.1,"g":-9.7,"h":-11.6,"i":-9.8,"j":-11.4,"k":-9.2,"l":-10.4,"m":-7.7,"n":-8.1,"o":-4.1,"p":-0.3},
{"x":159.64,"a":-0.4,"b":-5.2,"c":-7.3,"d":-8.6,"e":-9.4,"f":-10,"g":-10.3,"h":-10.5,"i":-10.5,"j":-10.3,"k":-10,"l":-9.4,"m":-8.6,"n":-7.3,"o":-5.2,"p":-0.4},
{"x":162.39,"a":-0.3,"b":-4.1,"c":-8.1,"d":-7.7,"e":-10.4,"f":-9.2,"g":-11.4,"h":-9.8,"i":-11.6,"j":-9.7,"k":-11.1,"l":-8.8,"m":-9.7,"n":-6.8,"o":-6.5,"p":-0.7},
{"x":165.64,"a":-0.1,"b":-3.2,"c":-9.5,"d":-7.1,"e":-11.9,"f":-8.7,"g":-12.9,"h":-9.3,"i":-13.2,"j":-9.2,"k":-12.8,"l":-8.4,"m":-11.5,"n":-6.5,"o":-8.5,"p":-1},
{"x":169.86,"a":0,"b":-2.5,"c":-12.2,"d":-6.7,"e":-14.7,"f":-8.4,"g":-15.8,"h":-9.1,"i":-16.1,"j":-9,"k":-15.7,"l":-8.2,"m":-14.5,"n":-6.4,"o":-11.7,"p":-1.4},
{"x":172,"a":0,"b":-2.3,"c":-14,"d":-6.6,"e":-16.7,"f":-8.3,"g":-17.8,"h":-9,"i":-18.2,"j":-9,"k":-17.8,"l":-8.2,"m":-16.7,"n":-6.4,"o":-14,"p":-1.6},
{"x":174,"a":0,"b":-2.1,"c":-16.5,"d":-6.6,"e":-19.2,"f":-8.3,"g":-20.3,"h":-9,"i":-20.7,"j":-9,"k":-20.3,"l":-8.2,"m":-19.2,"n":-6.5,"o":-16.5,"p":-1.8},
{"x":175,"a":0,"b":-2.1,"c":-18.1,"d":-6.5,"e":-20.7,"f":-8.3,"g":-21.9,"h":-9,"i":-22.2,"j":-9,"k":-21.9,"l":-8.2,"m":-20.7,"n":-6.5,"o":-18.1,"p":-1.8},
{"x":176,"a":0,"b":-2,"c":-20,"d":-6.5,"e":-22.7,"f":-8.3,"g":-23.8,"h":-9,"i":-24.2,"j":-9,"k":-23.8,"l":-8.2,"m":-22.7,"n":-6.5,"o":-20,"p":-1.9},
{"x":177,"a":0,"b":-2,"c":-22.5,"d":-6.5,"e":-25.2,"f":-8.2,"g":-26.3,"h":-9,"i":-26.7,"j":-9,"k":-26.3,"l":-8.2,"m":-25.2,"n":-6.5,"o":-22.5,"p":-1.9},
{"x":178,"a":0,"b":-2,"c":-26,"d":-6.5,"e":-28.7,"f":-8.2,"g":-29.9,"h":-9,"i":-30.2,"j":-8.9,"k":-29.9,"l":-8.2,"m":-28.7,"n":-6.5,"o":-26,"p":-1.9},
{"x":179,"a":0,"b":-1.9,"c":-32,"d":-6.5,"e":-34.7,"f":-8.2,"g":-35.9,"h":-8.9,"i":-36.2,"j":-8.9,"k":-35.9,"l":-8.2,"m":-34.7,"n":-6.5,"o":-32,"p":-1.9},
{"x":180,"a":0,"b":-1.9,"c":-40,"d":-6.5,"e":-40,"f":-8.2,"g":-40,"h":-8.9,"i":-40,"j":-8.9,"k":-40,"l":-8.2,"m":-40,"n":-6.5,"o":-40,"p":-1.9}
]},
"transform":[{"fold":["a","b","c","d","e","f","g","h","p","o","n","m","l","k","j","i"],"as":["beam","gain"]}],
"mark":{"type":"line","strokeWidth":5.5,"clip":true,"strokeJoin":"round","strokeCap":"butt"},
"encoding":{
"x":{"field":"x","type":"quantitative","scale":{"domain":[0,180],"nice":false,"zero":false},
"axis":{"values":[0,20,40,60,80,100,120,140,160,180],"grid":false,"title":"Incidence Angle (degrees)","titleFontSize":37,"titleFontWeight":"bold","titleColor":"black","titlePadding":24,"labelFontSize":30,"labelFontWeight":"bold","labelColor":"black","labelPadding":15,"labelFlush":false,"labelBound":false,"tickSize":7,"tickWidth":4,"tickColor":"black","domainWidth":4,"domainColor":"black"}},
"y":{"field":"gain","type":"quantitative","scale":{"domain":[-40,0],"nice":false,"zero":false},
"axis":{"values":[-40,-35,-30,-25,-20,-15,-10,-5,0],"labelExpr":"'' + datum.value","grid":true,"gridDash":[8,7],"gridColor":"#333333","gridWidth":1.5,"title":"Relative Array Gain (dB)","titleFontSize":37,"titleFontWeight":"bold","titleColor":"black","titlePadding":88,"labelFontSize":30,"labelFontWeight":"bold","labelColor":"black","labelPadding":5,"labelFlush":false,"labelBound":false,"tickSize":6,"tickWidth":4,"tickColor":"black","domainWidth":5,"domainColor":"black"}},
"color":{"field":"beam","type":"nominal","legend":null,"scale":{"domain":["a","b","c","d","e","f","g","h","i","j","k","l","m","n","o","p"],"range":["#00BFFF","#000000","#808080","#993300","#000080","#FF00FF","#0000FF","#FF0000","#00FF00","#FF6600","#339966","#003300","#FFCC99","#00FFFF","#CC99FF","#C0C0C0"]}},
"order":{"field":"x","type":"quantitative"}
}
}
